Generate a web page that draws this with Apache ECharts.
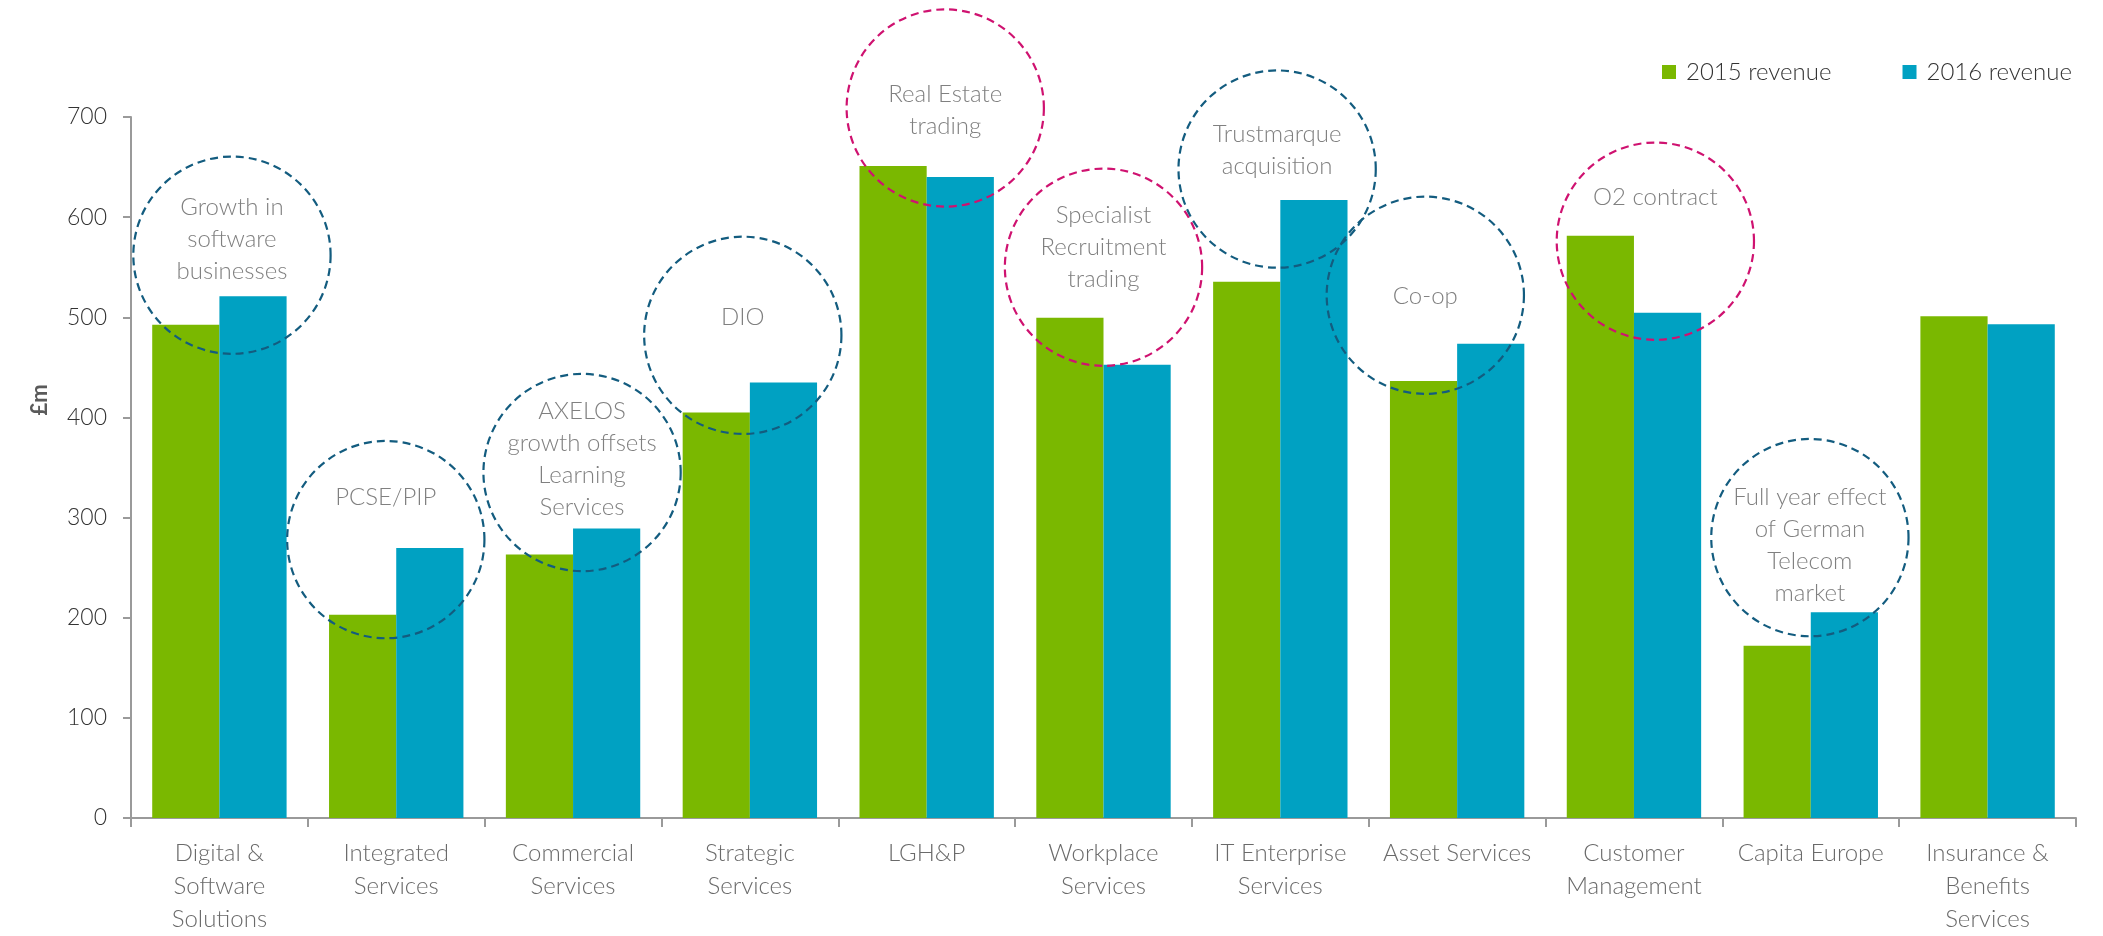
<!DOCTYPE html>
<html>
<head>
<meta charset="utf-8">
<title>Revenue by division</title>
<script src="https://cdn.jsdelivr.net/npm/echarts@6/dist/echarts.min.js"></script>
<style>
  html, body { margin: 0; padding: 0; background: #ffffff; }
  #chart { width: 2103px; height: 936px; }
</style>
</head>
<body>
<div id="chart"></div>
<script>
// Divisions on the x axis
const categories = [
  'Digital &\nSoftware\nSolutions',
  'Integrated\nServices',
  'Commercial\nServices',
  'Strategic\nServices',
  'LGH&P',
  'Workplace\nServices',
  'IT Enterprise\nServices',
  'Asset Services',
  'Customer\nManagement',
  'Capita Europe',
  'Insurance &\nBenefits\nServices'
];

// Revenue, £m
const revenue2015 = [492.5, 203, 263, 405, 651, 499.5, 535.5, 436.5, 581.5, 172, 501];
const revenue2016 = [521, 269.5, 289, 435, 640, 452.5, 617, 473.5, 504.5, 205.5, 493];

// Value axis
const yMin = 0;
const yMax = 700;
const yStep = 100;

// Call-out notes: position along the category axis (category i spans i..i+1),
// circle centre and text centre in £m, and whether the note marks growth or decline
const noteTexts = [
  'Growth in\nsoftware\nbusinesses',
  'PCSE/PIP',
  'AXELOS\ngrowth offsets\nLearning\nServices',
  'DIO',
  'Real Estate\ntrading',
  'Specialist\nRecruitment\ntrading',
  'Trustmarque\nacquisition',
  'Co-op',
  'O2 contract',
  'Full year effect\nof German\nTelecom\nmarket'
];
const notePositions = [0.571, 1.441, 2.551, 3.460, 4.605, 5.500, 6.482, 7.320, 8.621, 9.495];
const noteCentres = [562, 278, 345, 482, 709, 550, 648, 522, 576, 280];
const noteTextLevels = [578, 320, 358, 500, 707, 570, 667, 521, 620, 272];
const noteKinds = ['up', 'up', 'up', 'up', 'down', 'down', 'up', 'up', 'down', 'up'];
const noteRadius = 98.5;

const GREEN = '#7AB800';
const BLUE = '#00A1C2';
const NOTE_UP = '#135C7F';
const NOTE_DOWN = '#CF1270';
const FONT = 'Lato, "Open Sans", sans-serif';

const chart = echarts.init(document.getElementById('chart'), null, { renderer: 'canvas' });

function renderNote(params, api) {
  const i = params.dataIndex;
  const pos = notePositions[i];
  const idx = Math.floor(pos);
  const base = api.coord([idx, noteCentres[i]]);
  const band = api.size([1, 0], [idx, noteCentres[i]])[0];
  const cx = base[0] + (pos - idx - 0.5) * band;
  const cy = base[1];
  const r = api.size([0, noteRadius], [idx, noteCentres[i]])[1];
  const ty = api.coord([idx, noteTextLevels[i]])[1];
  return {
    type: 'group',
    children: [
      {
        type: 'circle',
        shape: { cx: cx, cy: cy, r: r },
        style: {
          fill: 'none',
          stroke: noteKinds[i] === 'up' ? NOTE_UP : NOTE_DOWN,
          lineWidth: 2.2,
          lineDash: [8, 5]
        }
      },
      {
        type: 'text',
        x: cx,
        y: ty,
        style: {
          text: noteTexts[i],
          fill: '#808080',
          fontSize: 24,
          fontFamily: FONT,
          fontWeight: 300,
          lineHeight: 32,
          align: 'center',
          verticalAlign: 'middle'
        }
      }
    ]
  };
}

const option = {
  backgroundColor: '#ffffff',
  animation: false,
  grid: { left: 131, right: 27, top: 117, bottom: 118 },
  legend: {
    data: ['2015 revenue', '2016 revenue'],
    right: 26,
    top: 55,
    itemWidth: 14,
    itemHeight: 14,
    itemGap: 71,
    icon: 'rect',
    textStyle: {
      color: '#333333',
      fontSize: 24,
      fontFamily: FONT,
      fontWeight: 300,
      padding: [0, 0, 0, 5],
      lineHeight: 24
    }
  },
  xAxis: {
    type: 'category',
    data: categories,
    axisLine: { lineStyle: { color: '#9a9a9a', width: 2 } },
    axisTick: { show: true, length: 9, lineStyle: { color: '#9a9a9a', width: 2 } },
    axisLabel: {
      interval: 0,
      margin: 19,
      color: '#6a6a6a',
      fontSize: 24,
      fontFamily: FONT,
      fontWeight: 300,
      lineHeight: 33
    },
    splitLine: { show: false }
  },
  yAxis: {
    type: 'value',
    min: yMin,
    max: yMax,
    interval: yStep,
    axisLine: { show: true, lineStyle: { color: '#9a9a9a', width: 2 } },
    axisTick: { show: true, length: 8, lineStyle: { color: '#9a9a9a', width: 2 } },
    axisLabel: {
      margin: 24,
      color: '#333333',
      fontSize: 23,
      fontFamily: FONT,
      fontWeight: 300
    },
    splitLine: { show: false }
  },
  graphic: [
    {
      type: 'text',
      x: 40,
      y: 400,
      rotation: Math.PI / 2,
      style: {
        text: '£m',
        fill: '#5a5a5a',
        fontSize: 22,
        fontWeight: 'bold',
        fontFamily: FONT,
        align: 'center',
        verticalAlign: 'middle'
      }
    }
  ],
  series: [
    {
      name: '2015 revenue',
      type: 'bar',
      data: revenue2015,
      barGap: '0%',
      barCategoryGap: '24%',
      itemStyle: { color: GREEN },
      z: 2
    },
    {
      name: '2016 revenue',
      type: 'bar',
      data: revenue2016,
      itemStyle: { color: BLUE },
      z: 2
    },
    {
      name: 'notes',
      type: 'custom',
      renderItem: renderNote,
      data: notePositions.map(function (p, i) { return [Math.floor(p), noteCentres[i]]; }),
      encode: { x: 0, y: 1 },
      clip: false,
      silent: true,
      z: 5
    }
  ]
};

chart.setOption(option);
</script>
</body>
</html>
